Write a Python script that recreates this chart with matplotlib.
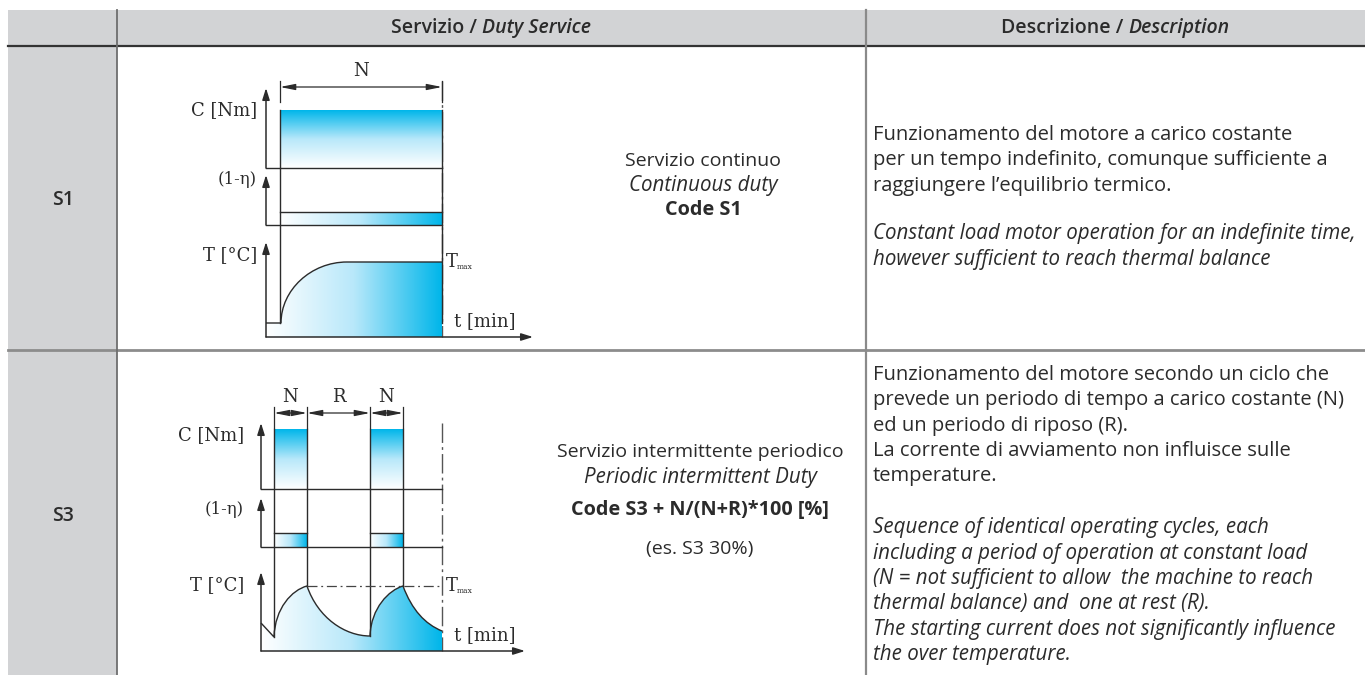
import numpy as np
import matplotlib
matplotlib.use('Agg')
import matplotlib.pyplot as plt
from matplotlib.path import Path
from matplotlib.patches import PathPatch, Rectangle
from matplotlib.colors import LinearSegmentedColormap

# --- testi della tabella ---
header_left = ['Servizio /', 'Duty Service']
header_right = ['Descrizione /', 'Description']
row_codes = ['S1', 'S3']

s1_mid = ['Servizio continuo', 'Continuous duty', 'Code S1']
s3_mid = ['Servizio intermittente periodico', 'Periodic intermittent Duty',
          'Code S3 + N/(N+R)*100 [%]', '(es. S3 30%)']

s1_desc_it = ['Funzionamento del motore a carico costante',
              'per un tempo indefinito, comunque sufficiente a',
              'raggiungere l\u2019equilibrio termico.']
s1_desc_en = ['Constant load motor operation for an indefinite time,',
              'however sufficient to reach thermal balance']
s3_desc_it = ['Funzionamento del motore secondo un ciclo che',
              'prevede un periodo di tempo a carico costante (N)',
              'ed un periodo di riposo (R).',
              'La corrente di avviamento non influisce sulle',
              'temperature.']
s3_desc_en = ['Sequence of identical operating cycles, each',
              'including a period of operation at constant load',
              '(N = not sufficient to allow  the machine to reach',
              'thermal balance) and  one at rest (R).',
              'The starting current does not significantly influence',
              'the over temperature.']

axis_labels = ['C [Nm]', '(1-\u03b7)', 'T [\u00b0C]']

# --- diagramma S1 (coordinate schema in pixel) ---
s1_origin_x = 266
s1_cycle_end = 442
s1_t_arrow_end = 533
s1_on = [(280, 442)]
s1_dim_labels = ['N']
s1_c = (168, 110, 88)      # base, top barra, punta freccia
s1_eta = (225, 212, 175)
s1_T = (337, 242)
s1_tmax = 262
s1_temp_start = 323
s1_temp_curve = [(281, 323), (281, 290), (311, 262), (347, 262)]
s1_label_y = [110, 180, 255]

# --- diagramma S3 ---
s3_origin_x = 261
s3_cycle_end = 442
s3_t_arrow_end = 525
s3_on = [(274, 307), (370, 403)]
s3_dim_labels = ['N', 'R', 'N']
s3_c = (489, 429, 423)
s3_eta = (547, 533, 498)
s3_T = (651, 572)
s3_tmax = 586
s3_temp_start = 623
s3_temp_curve = [(274, 637),
                 (275, 608), (292, 590), (307, 586),
                 (318, 618), (345, 636), (370, 636),
                 (371, 608), (389, 590), (403, 586),
                 (412, 610), (425, 624), (442, 631)]
s3_label_y = [435, 510, 585]

gray_cell = '#d2d3d5'
ink = '#2b2b2b'
cyan = LinearSegmentedColormap.from_list('cy', ['#ffffff', '#b8e8fa', '#00b6ea'])
sans = 'Open Sans'
serif = 'DejaVu Serif'

fig = plt.figure(figsize=(13.65, 6.75), dpi=100)
ax = fig.add_axes([0, 0, 1, 1])
ax.set_xlim(0, 1365)
ax.set_ylim(675, 0)
ax.axis('off')

# sfondi grigi
ax.add_patch(Rectangle((8, 10), 1357, 36, color=gray_cell, lw=0, zorder=0))
ax.add_patch(Rectangle((8, 10), 109, 665, color=gray_cell, lw=0, zorder=0))
# linee tabella
ax.plot([8, 1365], [46, 46], color='#333333', lw=1.6, zorder=1)
ax.plot([8, 1365], [350, 350], color='#8c8c8c', lw=2, zorder=1)
ax.plot([117, 117], [10, 675], color='#6e6e6e', lw=1.3, zorder=1)
ax.plot([866, 866], [10, 675], color='#8a8a8a', lw=1.6, zorder=1)

renderer = fig.canvas.get_renderer()


def two_part(x, y, parts, styles, **kw):
    texts = [ax.text(0, y, p, fontstyle=s, ha='left', va='center', **kw)
             for p, s in zip(parts, styles)]
    widths = [t.get_window_extent(renderer).width for t in texts]
    gap = 5
    cur = x - (sum(widths) + gap * (len(texts) - 1)) / 2
    for t, w in zip(texts, widths):
        t.set_x(cur)
        cur += w + gap


two_part(491, 28, header_left, ['normal', 'italic'], family=sans,
         fontsize=14, fontweight='semibold', color=ink)
two_part(1115, 28, header_right, ['normal', 'italic'], family=sans,
         fontsize=14, fontweight='semibold', color=ink)

ax.text(63, 200, row_codes[0], ha='center', va='center', family=sans,
        fontsize=14, fontweight='semibold', color=ink)
ax.text(63, 516, row_codes[1], ha='center', va='center', family=sans,
        fontsize=14, fontweight='semibold', color=ink)

# testi centrali
fs = 14
fs_it = 14.8
for txt, yy, st, wt, sz in zip(s1_mid, [161, 185, 210], ['normal', 'italic', 'normal'],
                               ['normal', 'normal', 'bold'], [fs, fs_it, 14.3]):
    ax.text(703, yy, txt, ha='center', va='center', family=sans, fontsize=sz,
            fontstyle=st, fontweight=wt, color=ink)
for txt, yy, st, wt, sz in zip(s3_mid, [452, 477, 510, 549],
                               ['normal', 'italic', 'normal', 'normal'],
                               ['normal', 'normal', 'bold', 'normal'],
                               [fs, fs_it, 14.3, fs]):
    ax.text(700, yy, txt, ha='center', va='center', family=sans, fontsize=sz,
            fontstyle=st, fontweight=wt, color=ink)

# descrizioni
step = 25.3
fs_d = 14.5
for i, line in enumerate(s1_desc_it):
    ax.text(873, 135 + i * step, line, ha='left', va='center', family=sans,
            fontsize=fs_d, color=ink)
for i, line in enumerate(s1_desc_en):
    ax.text(873, 234 + i * step, line, ha='left', va='center', family=sans,
            fontsize=fs_it, fontstyle='italic', color=ink)
for i, line in enumerate(s3_desc_it):
    ax.text(873, 375 + i * step, line, ha='left', va='center', family=sans,
            fontsize=fs_d, color=ink)
for i, line in enumerate(s3_desc_en):
    ax.text(873, 528 + i * step, line, ha='left', va='center', family=sans,
            fontsize=fs_it, fontstyle='italic', color=ink)


def grad(patch, x0, x1, y_bot, y_top, vertical):
    g = np.linspace(0, 1, 256)
    img = g[:, None] if vertical else g[None, :]
    ax.add_patch(patch)
    im = ax.imshow(img, cmap=cyan, extent=(x0, x1, y_bot, y_top), origin='lower',
                   aspect='auto', interpolation='bilinear', zorder=2)
    im.set_clip_path(patch)


def arrow(x0, y0, x1, y1):
    ax.annotate('', xy=(x1, y1), xytext=(x0, y0),
                arrowprops=dict(arrowstyle='-|>,head_width=0.22,head_length=0.7',
                                lw=1.1, color=ink, shrinkA=0, shrinkB=0), zorder=4)


def dim(x0, x1, y):
    ax.annotate('', xy=(x1, y), xytext=(x0, y),
                arrowprops=dict(arrowstyle='<|-|>,head_width=0.18,head_length=0.9',
                                lw=0.9, color=ink, shrinkA=0, shrinkB=0), zorder=4)


def diagram(ox, cend, tend, on, labels, c, eta, T, tmax, tstart, curve,
            label_x, label_y, ydim):
    single = len(on) == 1
    # linea di fine ciclo tratto-punto
    ax.plot([cend, cend], [ydim - 6 if single else c[2], T[0]], color='#555555',
            lw=1.0, ls=(0, (14, 3, 2, 3)), zorder=1)
    # quote N / R
    edges = sorted(set([e for seg in on for e in seg]))
    for e in edges:
        ax.plot([e, e], [ydim - 6, ydim + 15], color=ink, lw=0.9, zorder=3)
    for (a, b), lab in zip(zip(edges[:-1], edges[1:]), labels):
        dim(a, b, ydim)
        ax.text((a + b) / 2, ydim - 16, lab, ha='center', va='center',
                family=serif, fontsize=13, color=ink)
    # barre carico C e perdite (1-eta)
    for a, b in on:
        grad(Rectangle((a, c[1]), b - a, c[0] - c[1], lw=0, fc='none'),
             a, b, c[0], c[1], True)
        grad(Rectangle((a, eta[1]), b - a, eta[0] - eta[1], lw=0, fc='none'),
             a, b, eta[0], eta[1], False)
        ax.plot([a, b], [eta[1], eta[1]], color=ink, lw=1.0, zorder=3)
    # temperatura
    if single:
        verts = [(ox, tstart)] + curve + [(cend, curve[-1][1]), (cend, T[0]),
                                           (ox, T[0]), (ox, tstart)]
        codes = ([Path.MOVETO, Path.LINETO] + [Path.CURVE4] * 3
                 + [Path.LINETO, Path.LINETO, Path.LINETO, Path.CLOSEPOLY])
    else:
        verts = [(ox, tstart)] + curve + [(cend, T[0]), (ox, T[0]), (ox, tstart)]
        codes = ([Path.MOVETO] + [Path.LINETO] + [Path.CURVE4] * (len(curve) - 1)
                 + [Path.LINETO, Path.LINETO, Path.CLOSEPOLY])
    fill = PathPatch(Path(verts, codes), fc='none', lw=0)
    grad(fill, ox, cend, T[0], min(v[1] for v in verts), False)
    out = PathPatch(Path(verts[:-3], codes[:-3]), fc='none', ec=ink, lw=1.0, zorder=3)
    ax.add_patch(out)
    # verticali dei periodi
    curve_pts = [curve[0]] + curve[3::3]
    for e in edges:
        yb = tstart
        for px, py in curve_pts:
            if abs(px - e) < 2:
                yb = py
        ax.plot([e, e], [c[1], yb], color=ink, lw=1.0, zorder=3)
    # Tmax
    if not single:
        ax.plot([on[0][1], cend], [tmax, tmax], color='#444444', lw=0.9,
                ls=(0, (8, 3, 1.5, 3)), zorder=3)
    ax.text(cend + 4, tmax, 'T', ha='left', va='center', family=serif,
            fontsize=13, color=ink)
    ax.text(cend + 15, tmax + 5, 'max', ha='left', va='center', family=serif,
            fontsize=5.5, color=ink)
    # assi
    for base, top in [(c[0], c[2]), (eta[0], eta[2])]:
        ax.plot([ox, cend], [base, base], color=ink, lw=1.0, zorder=3)
        arrow(ox, base, ox, top)
    arrow(ox, T[0], ox, T[1])
    arrow(ox, T[0], tend, T[0])
    ax.text(cend + 12, T[0] - 16, 't [min]', ha='left', va='center', family=serif,
            fontsize=13, color=ink)
    # etichette assi
    for lab, yy, fsz in zip(axis_labels, label_y, [13, 12, 13]):
        ax.text(label_x, yy, lab, ha='right', va='center', family=serif,
                fontsize=fsz, color=ink)


diagram(s1_origin_x, s1_cycle_end, s1_t_arrow_end, s1_on, s1_dim_labels, s1_c,
        s1_eta, s1_T, s1_tmax, s1_temp_start, s1_temp_curve, 257, s1_label_y, 87)
diagram(s3_origin_x, s3_cycle_end, s3_t_arrow_end, s3_on, s3_dim_labels, s3_c,
        s3_eta, s3_T, s3_tmax, s3_temp_start, s3_temp_curve, 244, s3_label_y, 413)

ax.set_xlim(0, 1365)
ax.set_ylim(675, 0)
fig.savefig('out.png', dpi=100, facecolor='white')
